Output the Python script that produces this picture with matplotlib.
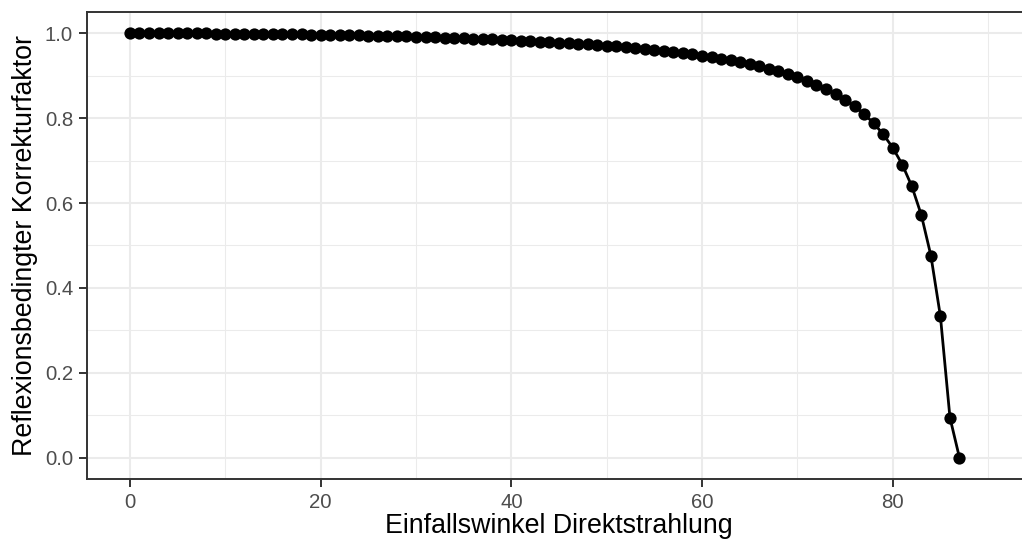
import matplotlib
matplotlib.use("Agg")
import matplotlib.pyplot as plt
from matplotlib.ticker import MultipleLocator

angle = list(range(0, 88))
factor = [
    1.0000, 1.0000, 0.9999, 0.9999, 0.9998, 0.9997, 0.9996, 0.9995, 0.9994, 0.9992,
    0.9991, 0.9989, 0.9987, 0.9985, 0.9982, 0.9980, 0.9977, 0.9974, 0.9971, 0.9968,
    0.9964, 0.9961, 0.9957, 0.9953, 0.9948, 0.9944, 0.9939, 0.9934, 0.9928, 0.9923,
    0.9917, 0.9910, 0.9904, 0.9897, 0.9890, 0.9882, 0.9874, 0.9865, 0.9857, 0.9847,
    0.9837, 0.9827, 0.9816, 0.9805, 0.9793, 0.9780, 0.9767, 0.9753, 0.9738, 0.9722,
    0.9705, 0.9688, 0.9669, 0.9649, 0.9628, 0.9606, 0.9582, 0.9556, 0.9529, 0.9500,
    0.9469, 0.9435, 0.9399, 0.9359, 0.9317, 0.9271, 0.9220, 0.9165, 0.9105, 0.9038,
    0.8964, 0.8882, 0.8790, 0.8686, 0.8568, 0.8433, 0.8277, 0.8095, 0.7880, 0.7621,
    0.7304, 0.6907, 0.6397, 0.5717, 0.4763, 0.3332, 0.0946, 0.0000,
]
x_range = [0, 90]          # range of the angle scale (data extend to 90)
x_ticks = [0, 20, 40, 60, 80]
y_ticks = [0.0, 0.2, 0.4, 0.6, 0.8, 1.0]
y_tick_labels = ["0.0", "0.2", "0.4", "0.6", "0.8", "1.0"]

plt.rcParams['font.family'] = ['Liberation Sans', 'DejaVu Sans']

fig = plt.figure(figsize=(10.22, 5.41), dpi=100)
# panel extends slightly past the right edge of the picture (cropped like the reference)
ax = fig.add_axes([87/1022, 1 - 479/541, (1031-87)/1022, (479-12)/541])

xr = x_range[1] - x_range[0]
ax.set_xlim(x_range[0] - 0.05*xr, x_range[1] + 0.05*xr)
ax.set_ylim(-0.05, 1.05)

ax.set_xticks(x_ticks)
ax.set_yticks(y_ticks)
ax.set_yticklabels(y_tick_labels)
ax.xaxis.set_minor_locator(MultipleLocator(10))
ax.yaxis.set_minor_locator(MultipleLocator(0.1))

ax.grid(which='major', color='#EBEBEB', linewidth=1.5)
ax.grid(which='minor', color='#EBEBEB', linewidth=0.75)
ax.set_axisbelow(True)
ax.tick_params(which='minor', length=0)
ax.tick_params(which='major', length=5.5, width=1.4, color='#333333',
               labelcolor='#4D4D4D', labelsize=14.7, pad=4.5)
for s in ax.spines.values():
    s.set_color('#333333')
    s.set_linewidth(1.4)

ax.plot(angle, factor, color='black', linewidth=2.0, zorder=3)
ax.scatter(angle, factor, s=78, color='black', zorder=4, linewidths=0)

ax.set_xlabel('Einfallswinkel Direktstrahlung', fontsize=19.3, color='black', labelpad=1)
ax.set_ylabel('Reflexionsbedingter Korrekturfaktor', fontsize=19.3, color='black', labelpad=5)

fig.savefig('out.png', dpi=100, facecolor='white')
